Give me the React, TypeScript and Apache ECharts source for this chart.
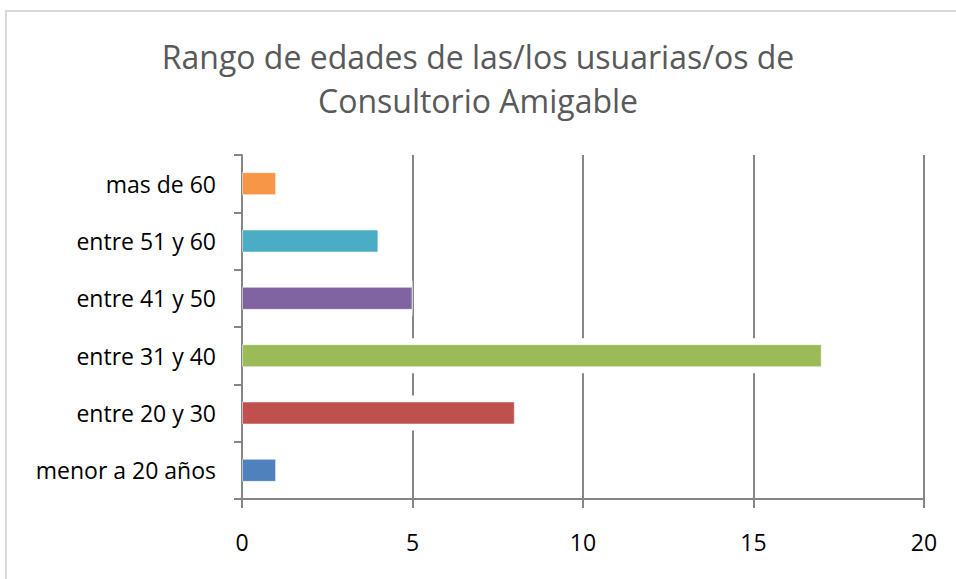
import React, { useEffect, useRef } from "react";
import * as echarts from "echarts";

const titleLines = ["Rango de edades de las/los usuarias/os de", "Consultorio Amigable"];
const categories = ["menor a 20 años", "entre 20 y 30", "entre 31 y 40", "entre 41 y 50", "entre 51 y 60", "mas de 60"];
const values = [1, 8, 17, 5, 4, 1];
const barColors = ["#4F81BD", "#C0504D", "#9BBB59", "#8064A2", "#4BACC6", "#F79646"];
const xMin = 0;
const xMax = 20;
const xInterval = 5;

export default function App() {
  const ref = useRef<HTMLDivElement>(null);
  useEffect(() => {
    if (!ref.current) return;
    const chart = echarts.init(ref.current, null, { renderer: "svg" });
    const font = "'Open Sans', 'Noto Sans', sans-serif";
    chart.setOption({
      animation: false,
      backgroundColor: "#ffffff",
      title: {
        text: titleLines.join("\n"),
        left: "center",
        top: 29,
        textStyle: {
          fontFamily: font,
          fontSize: 32,
          fontWeight: "normal",
          color: "#595959",
          lineHeight: 44,
        },
      },
      graphic: [
        {
          type: "rect",
          shape: { x: 6, y: 11, width: 980, height: 620 },
          style: { fill: "none", stroke: "#d9d9d9", lineWidth: 2 },
          silent: true,
        },
      ],
      grid: { left: 242, right: 32, top: 155, bottom: 80, containLabel: false },
      xAxis: {
        type: "value",
        min: xMin,
        max: xMax,
        interval: xInterval,
        axisLine: { show: true, lineStyle: { color: "#868686", width: 2 } },
        axisTick: { show: true, length: 9, lineStyle: { color: "#868686", width: 2 } },
        axisLabel: { fontFamily: font, fontSize: 23, color: "#000000", margin: 31, lineHeight: 23 },
        splitLine: { show: true, lineStyle: { color: "#868686", width: 2 } },
      },
      yAxis: [
        {
          type: "category",
          data: categories,
          z: 3,
          axisLine: { show: true, lineStyle: { color: "#868686", width: 2 } },
          axisTick: { show: true, length: 8, lineStyle: { color: "#868686", width: 2 } },
          axisLabel: { fontFamily: font, fontSize: 23, color: "#000000", margin: 26 },
          splitLine: { show: false },
        },
        {
          type: "category",
          data: categories,
          show: false,
          position: "left",
        },
      ],
      series: [
        {
          type: "bar",
          yAxisIndex: 1,
          data: values,
          barWidth: 35,
          itemStyle: { color: "#ffffff" },
          silent: true,
          z: 2,
        },
        {
          type: "bar",
          yAxisIndex: 0,
          data: values.map((v, i) => ({ value: v, itemStyle: { color: barColors[i] } })),
          barWidth: 23,
          itemStyle: { borderColor: "rgba(255,255,255,0.5)", borderWidth: 1 },
          z: 3,
        },
      ],
    });
    return () => chart.dispose();
  }, []);
  return (
    <div
      ref={ref}
      style={{ position: "absolute", left: 0, top: 0, width: 956, height: 579 }}
    />
  );
}
